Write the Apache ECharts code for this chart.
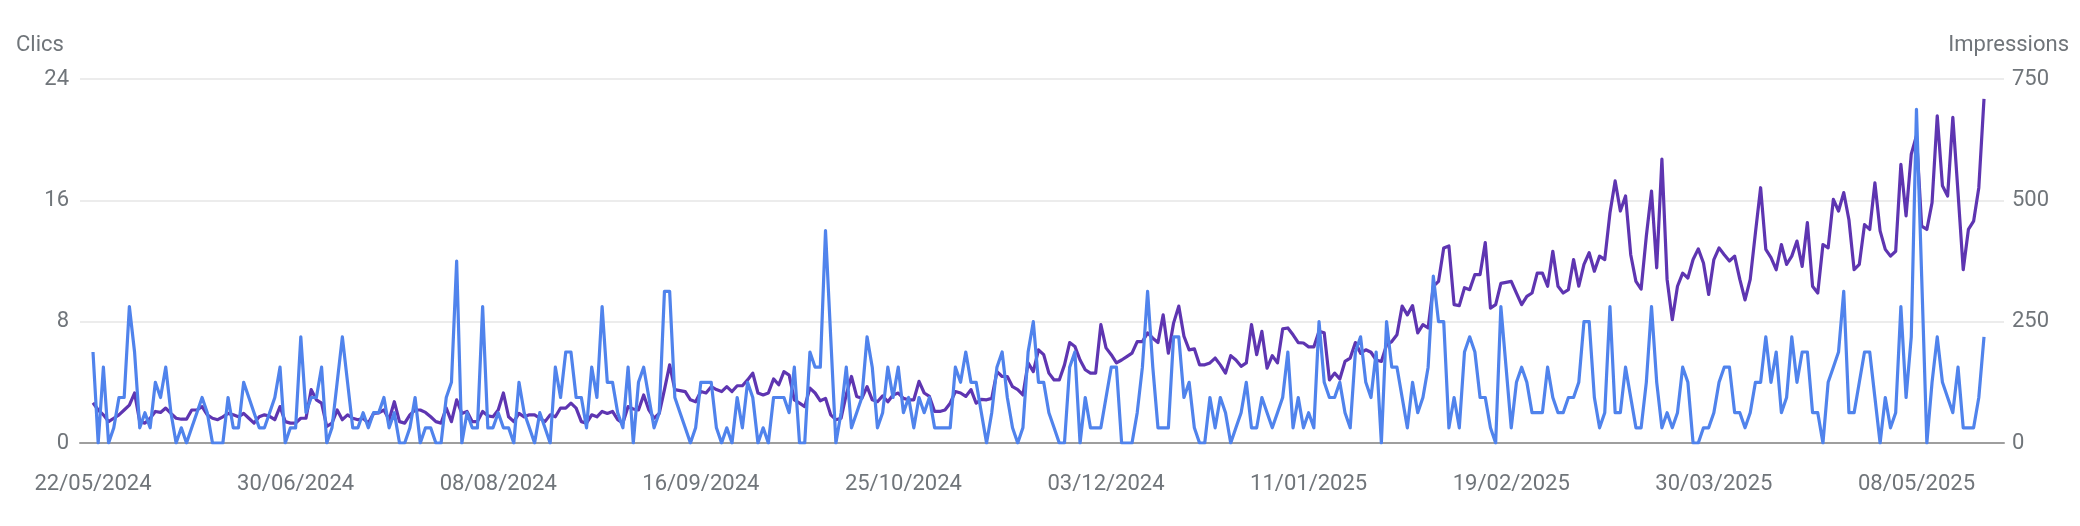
<!DOCTYPE html>
<html>
<head>
<meta charset="utf-8">
<script src="https://cdn.jsdelivr.net/npm/echarts@6/dist/echarts.min.js"></script>
<style>
html,body{margin:0;padding:0;background:#fff;}
#chart{width:2080px;height:526px;}
</style>
</head>
<body>
<div id="chart"></div>
<script>
// ---- data ----
const startDate = '2024-05-22';
const dayCount = 365;
const clicsTicks = [0, 8, 16, 24];
const impressionsTicks = [0, 250, 500, 750];

const clics = [
6,0,5,0,1,3,3,9,6,1,2,1,4,3,5,2,0,1,0,1,2,3,2,0,0,0,3,1,1,4,3,
2,1,1,2,3,5,0,1,1,7,2,3,3,5,0,1,4,7,4,1,1,2,1,2,2,3,1,2,0,0,1,
3,0,1,1,0,0,3,4,12,0,2,1,1,9,1,1,2,1,1,0,4,2,1,0,2,1,0,5,3,6,6,
3,3,1,5,3,9,4,4,2,1,5,0,4,5,3,1,2,10,10,3,2,1,0,1,4,4,4,1,0,1,
0,3,1,4,3,0,1,0,3,3,3,2,5,0,0,6,5,5,14,7,0,2,5,1,2,3,7,5,1,2,5,
3,5,2,3,1,3,2,3,1,1,1,1,5,4,6,4,4,2,0,2,5,6,3,1,0,1,6,8,4,4,2,
1,0,0,5,6,0,3,1,1,1,3,5,5,0,0,0,2,5,10,5,1,1,1,7,7,3,4,1,0,0,3,
1,3,2,0,1,2,4,1,1,3,2,1,2,3,6,1,3,1,2,1,8,4,3,3,4,2,1,6,7,4,3,
6,0,8,5,5,3,1,4,2,3,5,11,8,8,1,3,1,6,7,6,3,3,1,0,9,5,1,4,5,4,
2,2,2,5,3,2,2,3,3,4,8,8,3,1,2,9,2,2,5,3,1,1,4,9,4,1,2,1,2,5,4,
0,0,1,1,2,4,5,5,2,2,1,2,4,4,7,4,6,2,3,7,4,6,6,2,2,0,4,5,6,10,2,
2,4,6,6,3,0,3,1,2,9,3,7,22,11,0,4,7,4,3,2,5,1,1,1,3,7
];

const impressions = [
83,68,58,44,51,58,68,78,103,44,41,51,65,63,72,61,51,49,49,68,68,75,58,51,48,54,61,58,54,61,51,
41,54,58,55,48,75,44,41,41,51,51,110,89,82,34,41,68,48,58,51,48,51,41,61,62,68,48,85,
44,41,58,68,68,63,54,44,41,72,44,89,61,65,44,44,65,56,54,68,103,54,44,61,54,58,58,51,44,58,54,72,72,82,
72,44,41,58,54,65,61,65,48,41,75,70,68,99,68,51,61,110,161,110,108,106,89,85,106,103,116,110,106,116,
106,118,118,130,144,103,99,103,132,120,147,140,89,82,75,113,103,87,92,58,48,51,100,137,96,92,116,89,85,97,85,
99,103,92,89,89,127,103,96,65,65,68,82,106,103,96,110,82,90,89,92,147,137,137,116,110,99,165,147,192,182,144,
130,130,161,207,199,171,151,144,144,244,196,182,165,171,178,185,209,209,227,216,207,264,185,247,282,220,192,194,161,161,165,
175,161,144,180,171,158,165,244,182,230,154,180,165,235,237,223,207,206,198,198,230,227,130,144,132,168,175,207,185,192,187,
171,168,202,209,223,282,264,283,227,244,237,323,333,402,406,285,283,320,316,347,347,413,278,285,329,331,333,309,285,302,
309,350,350,323,395,323,309,316,378,323,368,392,354,385,378,474,540,478,509,388,333,317,426,519,361,585,337,254,323,350,340,
378,400,371,306,378,402,388,375,385,337,295,337,433,526,399,382,357,409,368,385,416,364,454,323,309,409,402,502,478,516,460,
357,368,450,440,536,437,399,385,395,574,468,595,633,447,440,495,674,530,509,671,516,357,440,457,526,709
];

// date categories dd/mm/yyyy
const categories = [];
(function(){
  const base = new Date(startDate + 'T00:00:00Z').getTime();
  for (let i = 0; i < dayCount; i++) {
    const d = new Date(base + i * 86400000);
    const dd = String(d.getUTCDate()).padStart(2, '0');
    const mm = String(d.getUTCMonth() + 1).padStart(2, '0');
    categories.push(dd + '/' + mm + '/' + d.getUTCFullYear());
  }
})();

// ---- chart ----
const FONT = 'Roboto, "Noto Sans", sans-serif';
const LABEL = '#70757a';
const chart = echarts.init(document.getElementById('chart'), null, {renderer: 'canvas'});
chart.setOption({
  animation: false,
  backgroundColor: '#ffffff',
  grid: [
    {left: 80, right: 76, top: 79, bottom: 83},
    {left: 93, right: 96, top: 79, bottom: 83}
  ],
  graphic: [
    {type: 'text', left: 16, top: 34, style: {text: 'Clics', font: '22px ' + FONT, fill: LABEL}},
    {type: 'text', right: 11, top: 34, style: {text: 'Impressions', font: '22px ' + FONT, fill: LABEL}}
  ],
  xAxis: [
    {
      gridIndex: 0, type: 'value', min: 0, max: 1,
      axisLine: {show: true, lineStyle: {color: '#9e9e9e', width: 2}},
      axisTick: {show: false}, axisLabel: {show: false}, splitLine: {show: false}
    },
    {
      gridIndex: 1, type: 'category', data: categories, boundaryGap: false,
      axisLine: {show: false}, axisTick: {show: false}, splitLine: {show: false},
      axisLabel: {interval: 38, margin: 30, color: LABEL, fontSize: 22, fontFamily: FONT}
    }
  ],
  yAxis: [
    {
      gridIndex: 0, type: 'value', position: 'left', min: clicsTicks[0], max: clicsTicks[clicsTicks.length - 1], interval: clicsTicks[1] - clicsTicks[0],
      axisLine: {show: false}, axisTick: {show: false},
      axisLabel: {margin: 11, color: LABEL, fontSize: 22, fontFamily: FONT},
      splitLine: {show: true, lineStyle: {color: '#ececec', width: 2}}
    },
    {
      gridIndex: 0, type: 'value', position: 'right', min: impressionsTicks[0], max: impressionsTicks[impressionsTicks.length - 1], interval: impressionsTicks[1] - impressionsTicks[0],
      axisLine: {show: false}, axisTick: {show: false},
      axisLabel: {margin: 8, color: LABEL, fontSize: 22, fontFamily: FONT},
      splitLine: {show: false}
    },
    {gridIndex: 1, type: 'value', show: false, min: clicsTicks[0], max: clicsTicks[clicsTicks.length - 1], splitLine: {show: false}},
    {gridIndex: 1, type: 'value', show: false, min: impressionsTicks[0], max: impressionsTicks[impressionsTicks.length - 1], splitLine: {show: false}}
  ],
  series: [
    {
      name: 'Impressions', type: 'line', xAxisIndex: 1, yAxisIndex: 3,
      data: impressions, symbol: 'none', smooth: false,
      lineStyle: {color: '#5e35b1', width: 3.2, join: 'round'}
    },
    {
      name: 'Clics', type: 'line', xAxisIndex: 1, yAxisIndex: 2,
      data: clics, symbol: 'none', smooth: false,
      lineStyle: {color: '#5083ec', width: 3.2, join: 'round'}
    }
  ]
});
</script>
</body>
</html>
